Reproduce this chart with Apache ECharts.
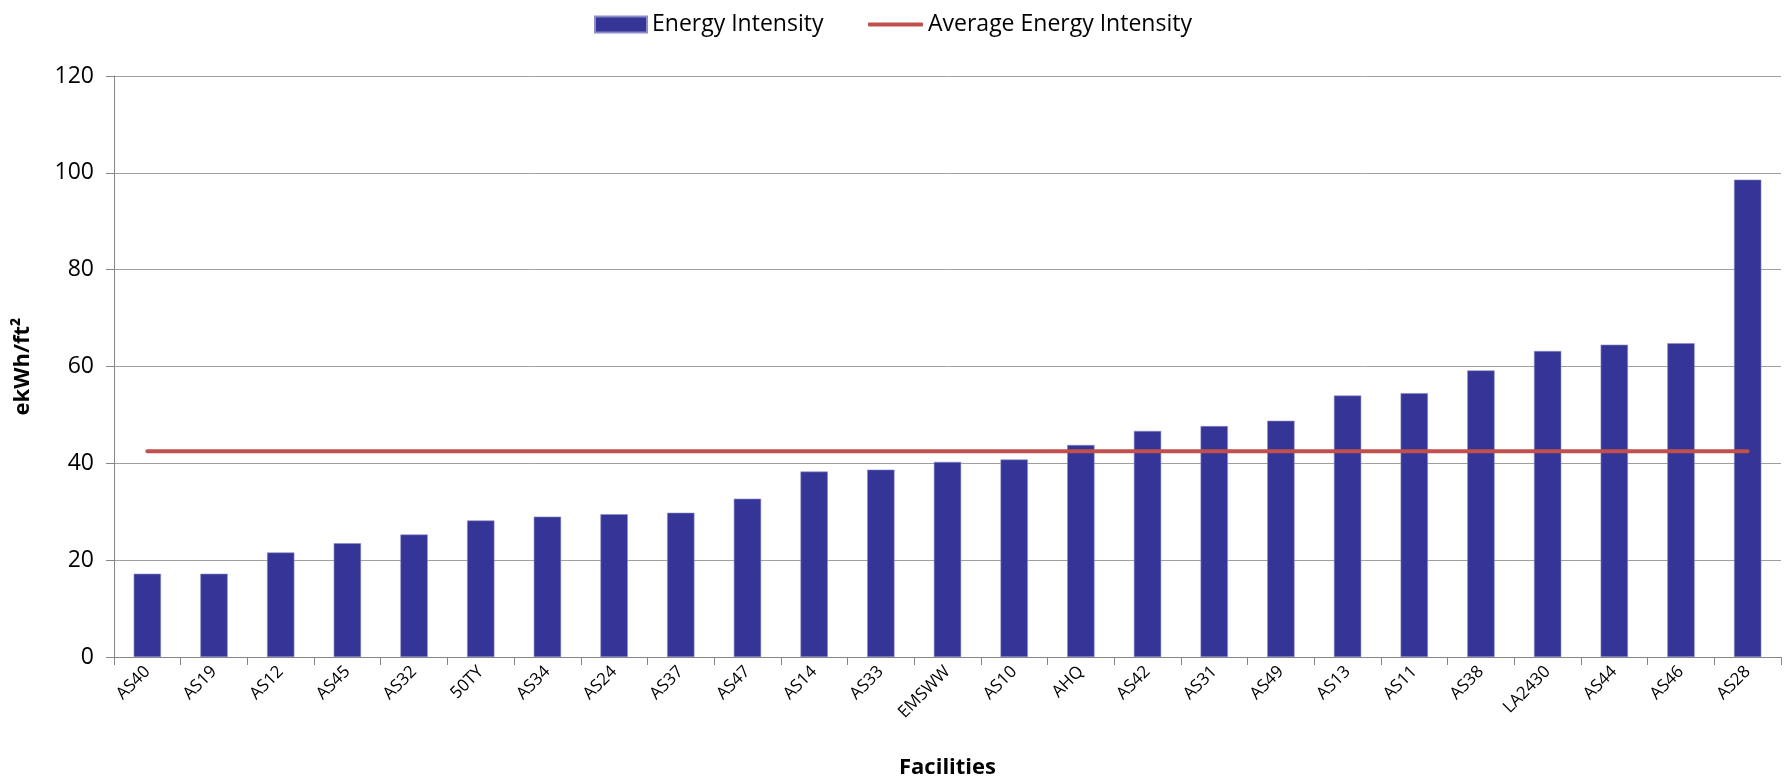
<!DOCTYPE html>
<html>
<head>
<meta charset="utf-8">
<script src="https://cdn.jsdelivr.net/npm/echarts@6/dist/echarts.min.js"></script>
<style>
html,body{margin:0;padding:0;background:#fff;}
#chart{width:1788px;height:784px;}
</style>
</head>
<body>
<div id="chart"></div>
<script>
const categories = ['AS40','AS19','AS12','AS45','AS32','50TY','AS34','AS24','AS37','AS47','AS14','AS33','EMSWW','AS10','AHQ','AS42','AS31','AS49','AS13','AS11','AS38','LA2430','AS44','AS46','AS28'];
const energyIntensity = [17.2,17.2,21.6,23.5,25.3,28.2,29.0,29.5,29.8,32.7,38.3,38.7,40.3,40.8,43.8,46.7,47.7,48.8,54.0,54.5,59.2,63.2,64.5,64.8,98.6];
const averageValue = 42.5;
const averageIntensity = categories.map(() => averageValue);
const yTicks = [0,20,40,60,80,100,120];

const FONT = '"Open Sans", "Noto Sans", sans-serif';
const chart = echarts.init(document.getElementById('chart'));
const legendText = { fontFamily: FONT, fontSize: 23, color: '#000' };
chart.setOption({
  animation: false,
  textStyle: { fontFamily: FONT, color: '#000' },
  legend: [
    {
      top: 8,
      left: 589,
      itemWidth: 52,
      itemHeight: 16,
      textStyle: legendText,
      data: [{ name: 'Energy Intensity', icon: 'rect' }]
    },
    {
      top: 8,
      left: 863,
      itemWidth: 55,
      itemHeight: 4,
      textStyle: legendText,
      data: [{ name: 'Average Energy Intensity', icon: 'roundRect' }]
    }
  ],
  grid: { left: 114, right: 7, top: 76, bottom: 125, containLabel: false },
  xAxis: {
    type: 'category',
    data: categories,
    name: 'Facilities',
    nameLocation: 'middle',
    nameGap: 100,
    nameTextStyle: { fontFamily: FONT, fontWeight: 'bold', fontSize: 22, color: '#000' },
    axisLine: { lineStyle: { color: '#868686', width: 1 } },
    axisTick: { show: true, length: 8, alignWithLabel: false, lineStyle: { color: '#868686' } },
    axisLabel: { rotate: 45, fontSize: 17, color: '#000', margin: 12, interval: 0 }
  },
  yAxis: {
    type: 'value',
    min: 0, max: 120, interval: 20,
    name: 'ekWh/ft²',
    nameLocation: 'middle',
    nameGap: 80,
    nameRotate: 90,
    nameTextStyle: { fontFamily: FONT, fontWeight: 'bold', fontSize: 22, color: '#000' },
    axisLine: { show: true, lineStyle: { color: '#868686' } },
    axisTick: { show: true, length: 8, inside: false, lineStyle: { color: '#868686' } },
    axisLabel: { fontSize: 23, color: '#000', margin: 20,
      formatter: v => yTicks.includes(v) ? String(v) : '' },
    splitLine: { lineStyle: { color: '#a0a0a0', width: 1 } }
  },
  series: [
    {
      name: 'Energy Intensity',
      type: 'bar',
      data: energyIntensity,
      barWidth: '41%',
      itemStyle: { color: '#353598', borderColor: '#8c8cc8', borderWidth: 0.6 }
    },
    {
      name: 'Average Energy Intensity',
      type: 'line',
      data: averageIntensity,
      symbol: 'none',
      lineStyle: { color: '#C0504D', width: 4, cap: 'round' },
      itemStyle: { color: '#C0504D' },
      z: 5
    }
  ]
});
</script>
</body>
</html>
